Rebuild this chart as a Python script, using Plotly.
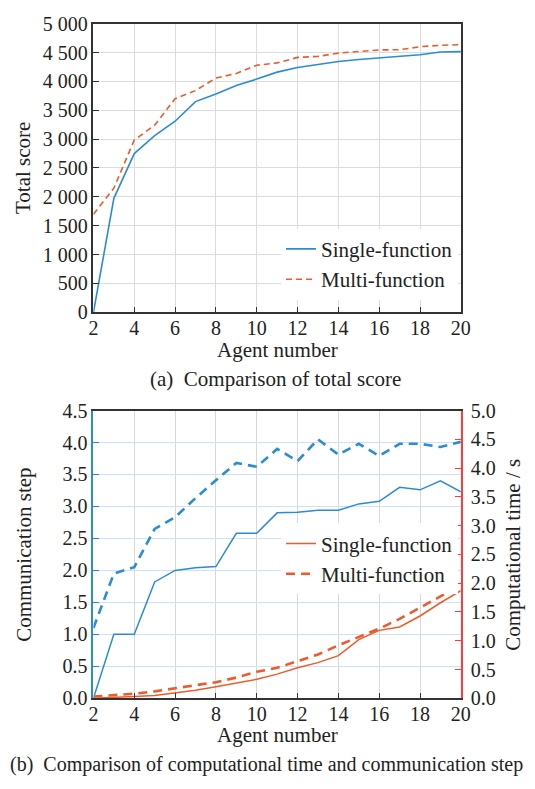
import plotly.graph_objects as go

agents = list(range(2, 21))

# (a) total score
single_score = [0, 1975, 2750, 3060, 3310, 3650, 3780, 3930, 4040, 4160, 4240,
                4290, 4345, 4380, 4405, 4435, 4460, 4510, 4515]
multi_score = [1700, 2150, 2985, 3240, 3700, 3840, 4057, 4136, 4280, 4320, 4415,
               4433, 4490, 4515, 4545, 4548, 4600, 4625, 4635]

# (b) communication step (left) and computational time (right)
single_step = [0, 1.0, 1.0, 1.82, 2.0, 2.04, 2.06, 2.58, 2.58, 2.9, 2.91, 2.94,
               2.94, 3.04, 3.08, 3.30, 3.26, 3.40, 3.23]
multi_step = [1.1, 1.95, 2.05, 2.65, 2.83, 3.13, 3.41, 3.68, 3.62, 3.9, 3.71, 4.05,
              3.81, 3.98, 3.79, 3.98, 3.98, 3.93, 4.01]
single_time = [0, 0.01, 0.03, 0.05, 0.09, 0.14, 0.20, 0.26, 0.33, 0.42, 0.53, 0.62,
               0.74, 1.02, 1.18, 1.24, 1.43, 1.66, 1.87]
multi_time = [0.03, 0.05, 0.08, 0.12, 0.17, 0.22, 0.28, 0.36, 0.46, 0.53, 0.65, 0.76,
              0.92, 1.06, 1.21, 1.38, 1.57, 1.77, 1.97]

x_ticks = list(range(2, 21, 2))
score_ticks = list(range(0, 5001, 500))
score_labels = ["0", "500", "1 000", "1 500", "2 000", "2 500", "3 000", "3 500",
                "4 000", "4 500", "5 000"]
step_ticks = [i * 0.5 for i in range(10)]
time_ticks = [i * 0.5 for i in range(11)]

W, H = 535, 789
BLUE = "#2a8cd4"
ORANGE = "#ef5a2a"
RED = "#ff3b3b"
DARK = "#333333"
FONT = "Liberation Serif"

def px_x(p):
    return p / W

def px_y(p):
    return 1 - p / H

fig = go.Figure()

fig.add_trace(go.Scatter(x=agents, y=single_score, mode="lines", name="Single-function",
                         line=dict(color=BLUE, width=1.6), xaxis="x", yaxis="y",
                         legend="legend"))
fig.add_trace(go.Scatter(x=agents, y=multi_score, mode="lines", name="Multi-function",
                         line=dict(color=ORANGE, width=1.6, dash="6px,4px"),
                         xaxis="x", yaxis="y", legend="legend"))

fig.add_trace(go.Scatter(x=agents, y=single_step, mode="lines", showlegend=False,
                         line=dict(color=BLUE, width=1.5), xaxis="x2", yaxis="y2"))
fig.add_trace(go.Scatter(x=agents, y=multi_step, mode="lines", showlegend=False,
                         line=dict(color=BLUE, width=2.6, dash="9px,6px"),
                         xaxis="x2", yaxis="y2"))
fig.add_trace(go.Scatter(x=agents, y=single_time, mode="lines", name="Single-function",
                         line=dict(color=ORANGE, width=1.5), xaxis="x2", yaxis="y3",
                         legend="legend2"))
fig.add_trace(go.Scatter(x=agents, y=multi_time, mode="lines", name="Multi-function",
                         line=dict(color=ORANGE, width=2.6, dash="9px,6px"),
                         xaxis="x2", yaxis="y3", legend="legend2"))

tickfont = dict(family=FONT, size=20, color="#222222")
xdom = [px_x(91), px_x(469)]

fig.update_layout(
    width=W, height=H, margin=dict(l=0, r=0, t=0, b=0),
    paper_bgcolor="white", plot_bgcolor="white",
    font=dict(family=FONT, size=20, color="#222222"),
    xaxis=dict(domain=xdom, anchor="y", range=[2, 20], tickvals=x_ticks,
               ticks="inside", ticklen=6, tickcolor=DARK, showline=True,
               linecolor=DARK, linewidth=1.5, mirror=True, showgrid=True,
               gridcolor="#dcdcdc", gridwidth=1, tickfont=tickfont, zeroline=False,
               ticklabelstandoff=-3),
    yaxis=dict(domain=[px_y(310), px_y(13)], anchor="x", range=[0, 5000],
               tickvals=score_ticks, ticktext=score_labels, ticks="inside",
               ticklen=6, tickcolor=DARK, showline=True, linecolor=DARK,
               linewidth=1.5, mirror=True, showgrid=True, gridcolor="#dcdcdc",
               tickfont=tickfont, zeroline=False),
    xaxis2=dict(domain=xdom, anchor="y2", range=[2, 20], tickvals=x_ticks,
                ticks="inside", ticklen=6, tickcolor=DARK, showline=True,
                linecolor=DARK, linewidth=1.5, mirror=True, showgrid=True,
                gridcolor="#d8d8d8", tickfont=tickfont, zeroline=False,
                ticklabelstandoff=-3),
    yaxis2=dict(domain=[px_y(707), px_y(411)], anchor="x2", range=[0, 4.5],
                tickvals=step_ticks, tickformat=".1f", ticks="inside", ticklen=6,
                tickcolor=BLUE, showline=True, linecolor=BLUE, linewidth=2,
                showgrid=True, gridcolor="#cfe2f5", tickfont=tickfont,
                zeroline=False),
    yaxis3=dict(overlaying="y2", side="right", anchor="x2", range=[0, 5],
                tickvals=time_ticks, tickformat=".1f", ticks="inside", ticklen=6,
                tickcolor=RED, showline=True, linecolor=RED, linewidth=2,
                showgrid=False, tickfont=tickfont, zeroline=False,
                ticklabelstandoff=4),
    legend=dict(x=px_x(284), y=px_y(224), xanchor="left", yanchor="top",
                bgcolor="white", borderwidth=0,
                font=dict(family=FONT, size=21, color="#222222"),
                tracegroupgap=0, itemwidth=30),
    legend2=dict(x=px_x(284), y=px_y(527), xanchor="left", yanchor="top",
                 bgcolor="white", borderwidth=0,
                 font=dict(family=FONT, size=21, color="#222222"),
                 tracegroupgap=0, itemwidth=30),
)

def ann(text, x, y, angle=0, size=21, xanchor="center"):
    fig.add_annotation(text=text, x=px_x(x), y=px_y(y), xref="paper", yref="paper",
                       showarrow=False, textangle=angle, xanchor=xanchor,
                       yanchor="middle", font=dict(family=FONT, size=size,
                                                   color="#222222"))

ann("Total score", 18, 161, angle=-90)
ann("Agent number", 280, 349)
ann("(a)  Comparison of total score", 278, 379, size=21)
ann("Communication step", 20, 559, angle=-90)
ann("Computational time / s", 523, 559, angle=-90)
ann("Agent number", 280, 745)
ann("(b)  Comparison of computational time and communication step", 3, 775,
    size=20, xanchor="left")

fig.write_html("out.html")
